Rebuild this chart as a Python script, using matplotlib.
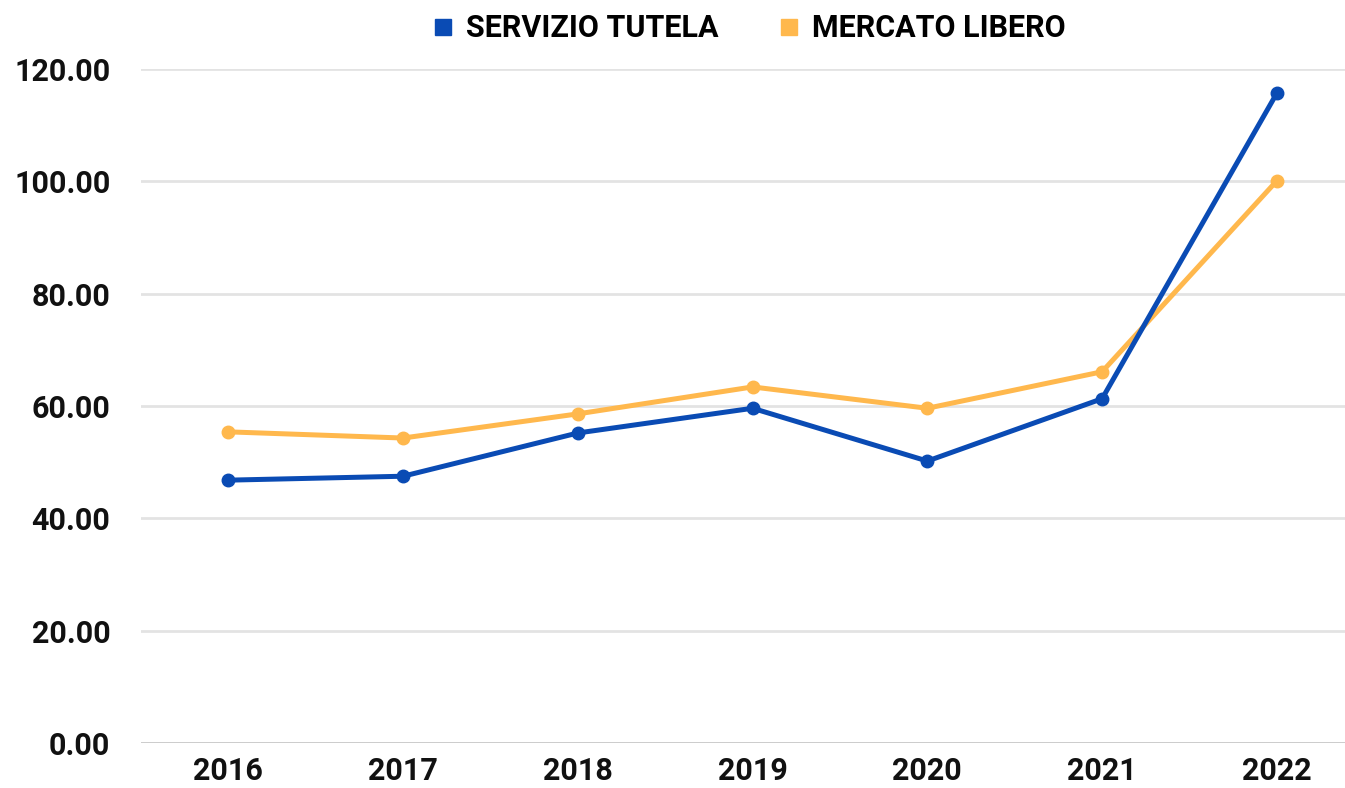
import matplotlib.pyplot as plt
from matplotlib.lines import Line2D

# -------------------------------------------------------------------
# Data
# -------------------------------------------------------------------

YEARS = ["2016", "2017", "2018", "2019", "2020", "2021", "2022"]
SERVIZIO_TUTELA = [46.8, 47.5, 55.2, 59.6, 50.2, 61.3, 115.7]
MERCATO_LIBERO = [55.4, 54.3, 58.6, 63.4, 59.6, 66.1, 100.1]
Y_TICKS = [0, 20, 40, 60, 80, 100, 120]

BLUE = "#0a4bb4"
ORANGE = "#ffb84d"

plt.rcParams["font.family"] = ["Roboto", "DejaVu Sans"]
plt.rcParams["font.weight"] = "bold"

fig = plt.figure(figsize=(13.45, 7.88), dpi=100)
ax = fig.add_axes([0.1048, 0.0571, 0.8952, 0.8553])

x = list(range(len(YEARS)))
ax.plot(x, SERVIZIO_TUTELA, color=BLUE, lw=3.6, marker="o", ms=9,
        solid_capstyle="round", clip_on=False, zorder=4)
ax.plot(x, MERCATO_LIBERO, color=ORANGE, lw=3.6, marker="o", ms=9,
        solid_capstyle="round", clip_on=False, zorder=3)

ax.set_xlim(-0.5, 6.39)
ax.set_ylim(0, 120)
ax.set_xticks(x)
ax.set_xticklabels(YEARS)
ax.set_yticks(Y_TICKS)
ax.set_yticklabels([f"{v:.2f}" for v in Y_TICKS])

for v in Y_TICKS:
    ax.axhline(v, color="#c8c8c8" if v == 0 else "#e3e3e3", lw=2, zorder=1)

for s in ax.spines.values():
    s.set_visible(False)
ax.tick_params(length=0, labelsize=22, colors="#111111")
ax.tick_params(axis="x", pad=9)
ax.tick_params(axis="y", pad=22)

handles = [
    Line2D([], [], ls="none", marker="s", ms=11, color=BLUE, label="SERVIZIO TUTELA"),
    Line2D([], [], ls="none", marker="s", ms=11, color=ORANGE, label="MERCATO LIBERO"),
]
fig.legend(handles=handles, loc="center", bbox_to_anchor=(0.555, 0.964), ncol=2,
           frameon=False, fontsize=22, handletextpad=0.25, columnspacing=1.8,
           handlelength=1.0)

fig.savefig("out.png", dpi=100, facecolor="white")
